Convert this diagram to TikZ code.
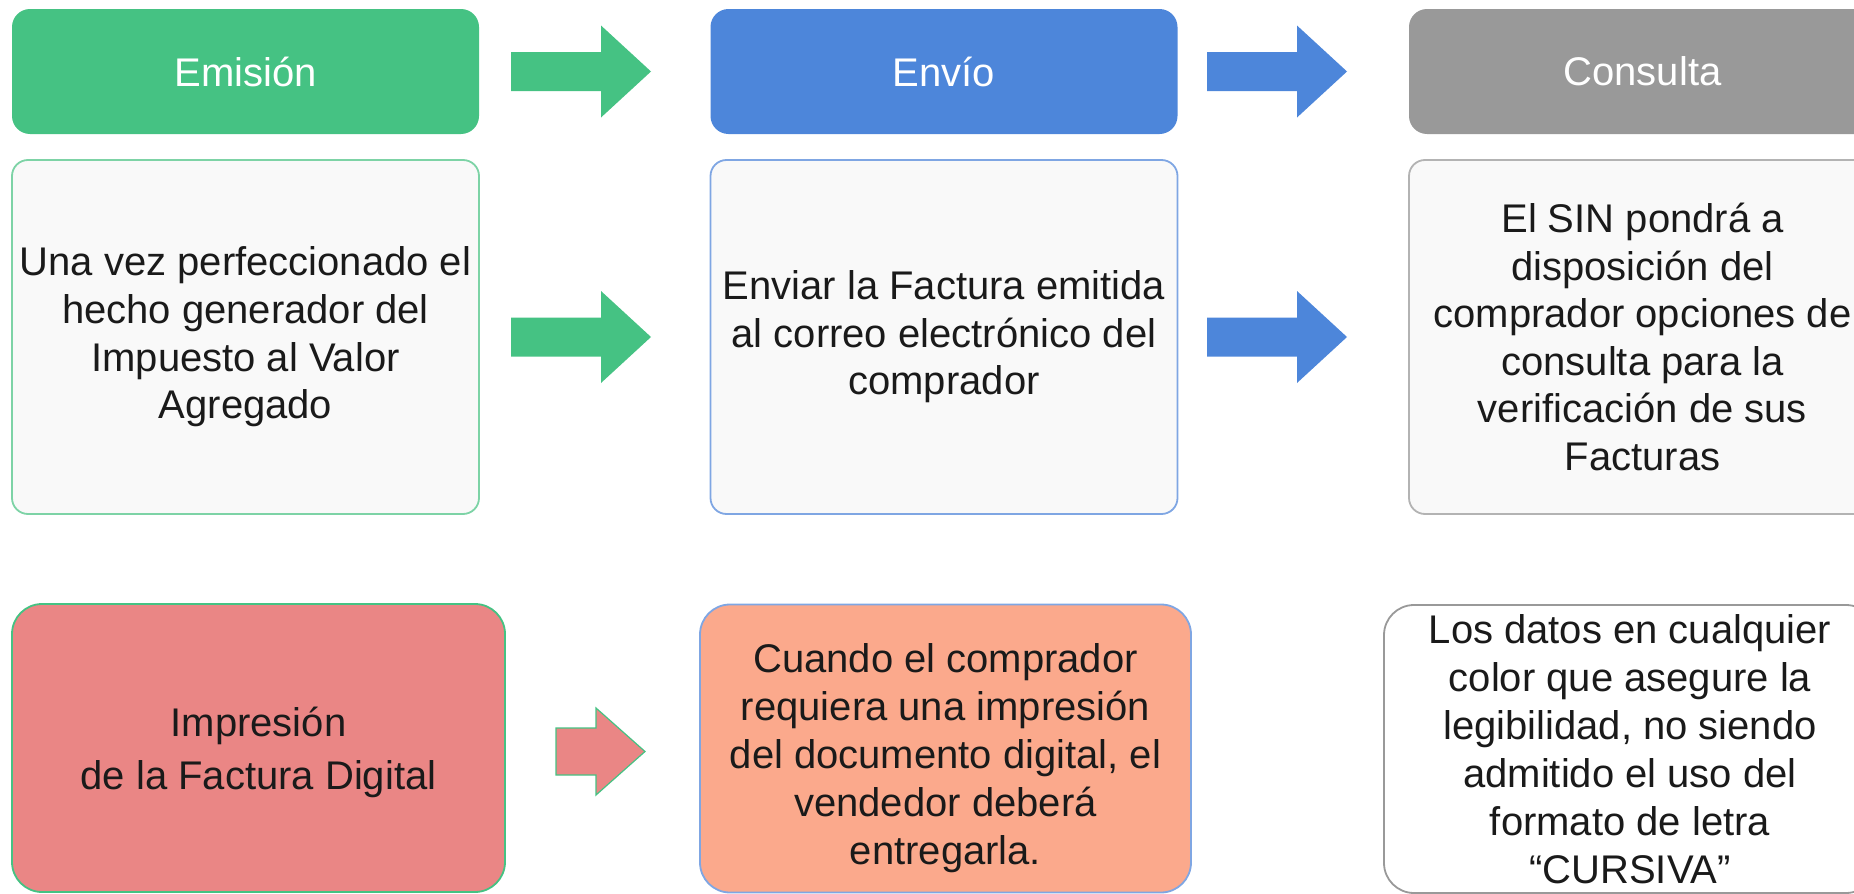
\documentclass[tikz,border=0pt]{standalone}
\usepackage{fontspec}
\setmainfont{Liberation Sans}
\definecolor{cgreen}{HTML}{45C283}
\definecolor{cgreenl}{HTML}{7DD3A6}
\definecolor{cblue}{HTML}{4D86DA}
\definecolor{cbluel}{HTML}{7FA6E3}
\definecolor{cgray}{HTML}{999999}
\definecolor{cgrayl}{HTML}{B3B3B3}
\definecolor{boxbg}{HTML}{F9F9F9}
\definecolor{cpink}{HTML}{EA8685}
\definecolor{csalmon}{HTML}{FBA98C}
\definecolor{txt}{HTML}{1A1A1A}
\begin{document}
\begin{tikzpicture}[x=0.5pt,y=-0.5pt,
  hdr/.style={rectangle, rounded corners=9pt, minimum width=233.5pt, minimum height=62.5pt,
    inner sep=0pt, text=white, font=\fontsize{20}{24}\selectfont},
  bodybox/.style={rectangle, rounded corners=8pt, minimum width=233.5pt, minimum height=177pt,
    inner sep=0pt, fill=boxbg, line width=0.9pt, align=center, text=txt,
    font=\fontsize{20}{23.8}\selectfont},
  lowbox/.style={rectangle, rounded corners=15pt, minimum height=144pt,
    inner sep=0pt, line width=0.9pt, align=center, text=txt,
    font=\fontsize{20}{24}\selectfont},
  barrow/.pic={\fill (0,-19.5) -- (90,-19.5) -- (90,-46) -- (140,0) -- (90,46) -- (90,19.5) -- (0,19.5) -- cycle;}
]
\useasboundingbox (0,0) rectangle (1854,894);
\begin{scope}
\clip (0,0) rectangle (1854,894);
% headers
\node[hdr, fill=cgreen] (h1) at (245.5,71.5) {Emisión};
\node[hdr, fill=cblue] (h2) at (944,71.5) {Envío};
\node[hdr, fill=cgray] (h3) at (1642.5,71.5) {Consulta};
% body boxes
\node[bodybox, draw=cgreenl] (b1) at (245.5,337) {Una vez perfeccionado el\\hecho generador del\\Impuesto al Valor\\Agregado};
\node[bodybox, draw=cbluel] (b2) at (944,337) {Enviar la Factura emitida\\al correo electrónico del\\comprador};
\node[bodybox, draw=cgrayl] (b3) at (1642.5,337) {El SIN pondrá a\\disposición del\\comprador opciones de\\consulta para la\\verificación de sus\\Facturas};
% arrows
\pic[cgreen] at (511,71.5) {barrow};
\pic[cblue] at (1207,71.5) {barrow};
\pic[cgreen] at (511,337) {barrow};
\pic[cblue] at (1207,337) {barrow};
% bottom row
\node[lowbox, fill=cpink, draw=cgreen, minimum width=246.5pt] (c1) at (258.5,748) {};
\node[align=center, text=txt, font=\fontsize{20}{26.5}\selectfont, inner sep=0pt] (t1) at (258.5,752) {Impresión\\de la Factura Digital};
\node[lowbox, fill=csalmon, draw=cbluel, minimum width=245.5pt] (c2) at (945.5,748.5) {};
\node[align=center, text=txt, font=\fontsize{20}{24}\selectfont, inner sep=0pt] (t2) at (945.5,758) {Cuando el comprador\\requiera una impresión\\del documento digital, el\\vendedor deberá\\entregarla.};
\node[lowbox, fill=white, draw=cgray, minimum width=246pt] (c3) at (1630,749) {Los datos en cualquier\\color que asegure la\\legibilidad, no siendo\\admitido el uso del\\formato de letra\\“CURSIVA”};
\filldraw[fill=cpink, draw=cgreen, line width=0.6pt]
  (556,728) -- (596,728) -- (596,708) -- (645,751.5) -- (596,795) -- (596,775) -- (556,775) -- cycle;
\end{scope}
\end{tikzpicture}
\end{document}
